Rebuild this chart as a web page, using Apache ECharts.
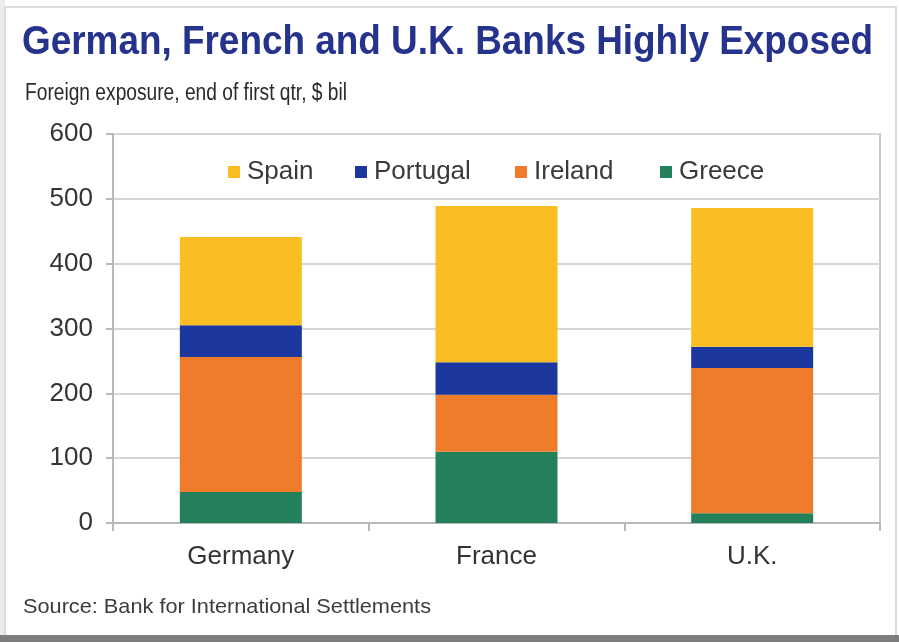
<!DOCTYPE html>
<html>
<head>
<meta charset="utf-8">
<script src="https://cdn.jsdelivr.net/npm/echarts@6/dist/echarts.min.js"></script>
<style>
  html, body { margin: 0; padding: 0; background: #fff; }
  #chart { width: 899px; height: 642px; }
</style>
</head>
<body>
<div id="chart"></div>
<script>
// Foreign exposure of banks by country, end of first quarter, $ billions
const categories = ['Germany', 'France', 'U.K.'];
const greece   = [48, 110, 15];
const ireland  = [208, 88, 224];
const portugal = [49, 50, 33];
const spain    = [136, 241, 214];
const yTicks   = [0, 100, 200, 300, 400, 500, 600];

const legendOrder = ['Spain', 'Portugal', 'Ireland', 'Greece'];

const titleText    = 'German, French and U.K. Banks Highly Exposed';
const subtitleText = 'Foreign exposure, end of first qtr, $ bil';
const sourceText   = 'Source: Bank for International Settlements';

const FONT = 'Arial, "Liberation Sans", Helvetica, sans-serif';

// Horizontal squeeze so a text run spans a given pixel width
const measureCtx = document.createElement('canvas').getContext('2d');
function squeeze(text, font, targetWidth) {
  measureCtx.font = font;
  return targetWidth / measureCtx.measureText(text).width;
}

const titleFont = 'bold 40px ' + FONT;
const subFont = '23px ' + FONT;
const srcFont = '21px ' + FONT;

const chart = echarts.init(document.getElementById('chart'));

const colors = {
  Spain: '#FBBE22',
  Portugal: '#1C389E',
  Ireland: '#EE7C2A',
  Greece: '#23805A'
};

function bar(name, data) {
  return {
    name: name,
    type: 'bar',
    stack: 'total',
    data: data,
    barWidth: 122,
    itemStyle: { color: colors[name] },
    emphasis: { disabled: true }
  };
}

// Legend entries sit at fixed slots across the top of the plot
const legendLeft = [228, 355, 515, 660];
const legends = legendOrder.map((name, i) => ({
  data: [name],
  left: legendLeft[i], top: 159,
  padding: 0,
  icon: 'rect', itemWidth: 12, itemHeight: 12,
  selectedMode: false,
  textStyle: { fontFamily: FONT, fontSize: 26, color: '#3a3a3a', padding: [0, 0, 0, 2] }
}));

chart.setOption({
  animation: false,
  backgroundColor: '#ffffff',
  grid: {
    left: 113, top: 134, right: 19, bottom: 119,
    show: true, borderColor: '#c9c9c9', borderWidth: 2
  },
  legend: legends,
  xAxis: {
    type: 'category',
    data: categories,
    axisLine: { lineStyle: { color: '#b8b8b8', width: 2 } },
    axisTick: { show: true, length: 8, lineStyle: { color: '#b8b8b8', width: 2 } },
    axisLabel: { fontFamily: FONT, fontSize: 26, color: '#333', margin: 21 }
  },
  yAxis: {
    type: 'value',
    min: yTicks[0], max: yTicks[yTicks.length - 1], interval: 100,
    axisLine: { show: true, lineStyle: { color: '#b8b8b8', width: 2 } },
    axisTick: { show: true, length: 7, lineStyle: { color: '#b8b8b8', width: 2 } },
    splitLine: { lineStyle: { color: '#d6d6d6', width: 2 } },
    axisLabel: { fontFamily: FONT, fontSize: 26, color: '#333', margin: 20 }
  },
  series: [
    bar('Greece', greece),
    bar('Ireland', ireland),
    bar('Portugal', portugal),
    bar('Spain', spain)
  ],
  graphic: [
    { type: 'rect', shape: { x: 0, y: 0, width: 5, height: 636 }, style: { fill: '#ececec' }, silent: true },
    { type: 'rect', shape: { x: 5, y: 7, width: 891, height: 629 }, style: { fill: 'none', stroke: '#dcdcdc', lineWidth: 2 }, silent: true },
    { type: 'rect', shape: { x: 0, y: 635, width: 899, height: 7 }, style: { fill: '#7d7d7d' }, silent: true },
    {
      type: 'text', x: 22, y: 43, scaleX: squeeze(titleText, titleFont, 851),
      style: { text: titleText, font: titleFont, fill: '#26338C', textVerticalAlign: 'middle' }
    },
    {
      type: 'text', x: 25, y: 94, scaleX: squeeze(subtitleText, subFont, 322),
      style: { text: subtitleText, font: subFont, fill: '#2a2a2a', textVerticalAlign: 'middle' }
    },
    {
      type: 'text', x: 23, y: 607, scaleX: squeeze(sourceText, srcFont, 408),
      style: { text: sourceText, font: srcFont, fill: '#3c3c3c', textVerticalAlign: 'middle' }
    }
  ]
});
</script>
</body>
</html>
